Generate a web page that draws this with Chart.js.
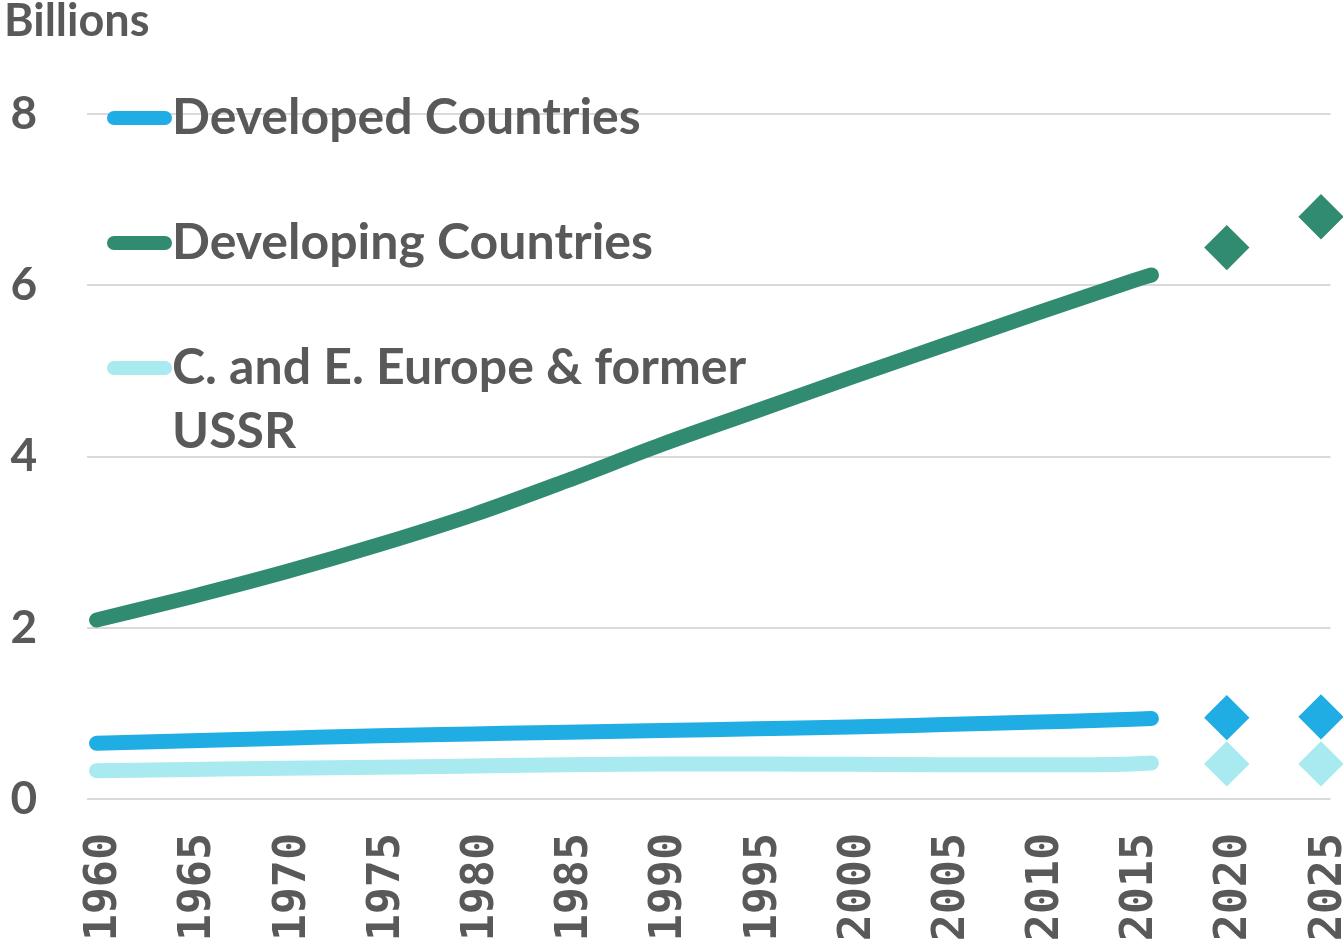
<!DOCTYPE html>
<html>
<head>
<meta charset="utf-8">
<script src="https://cdn.jsdelivr.net/npm/chart.js@4.4.1/dist/chart.umd.min.js"></script>
<style>
    html, body { margin: 0; padding: 0; background: #fff; overflow: hidden; }
    canvas { display: block; }
</style>
</head>
<body>
<canvas id="popChart" width="1343" height="943"></canvas>
<script>
// category axis: every year 1960..2025, labelled every 5 years
const years = Array.from({ length: 66 }, (_, i) => String(1960 + i));

// estimates (billions)
const trendYears = [1960, 1965, 1970, 1975, 1980, 1985, 1990, 1995, 2000, 2005, 2010, 2015, 2016];
const developed = [0.65, 0.68, 0.71, 0.74, 0.76, 0.78, 0.80, 0.82, 0.84, 0.87, 0.90, 0.93, 0.94];
const developing = [2.09, 2.36, 2.65, 2.97, 3.32, 3.72, 4.14, 4.53, 4.92, 5.30, 5.68, 6.05, 6.12];
const ceeUssr = [0.33, 0.345, 0.36, 0.37, 0.385, 0.40, 0.41, 0.41, 0.405, 0.40, 0.40, 0.41, 0.42];

const projYears = [2020, 2025];
const developedProj = [0.95, 0.96];
const developingProj = [6.44, 6.80];
const ceeUssrProj = [0.41, 0.41];

const seriesNames = ["Developed Countries", "Developing Countries", "C. and E. Europe & former USSR"];
const seriesColors = ["#1FADE4", "#318B70", "#A8EAF0"];
const yTicks = [0, 2, 4, 6, 8];

const textColor = "#595959";

function toPoints(xs, ys) {
    return xs.map((x, i) => ({ x: String(x), y: ys[i] }));
}

function trendSet(idx, values) {
    return {
        label: seriesNames[idx],
        data: toPoints(trendYears, values),
        borderColor: seriesColors[idx],
        backgroundColor: seriesColors[idx],
        borderWidth: 15,
        borderCapStyle: "round",
        borderJoinStyle: "round",
        cubicInterpolationMode: "monotone",
        pointRadius: 0,
        clip: false,
    };
}

function projSet(idx, values) {
    return {
        label: seriesNames[idx] + " (projection)",
        data: toPoints(projYears, values),
        showLine: false,
        pointStyle: "rectRot",
        pointRadius: 17,
        pointBorderWidth: 8,
        borderColor: seriesColors[idx],
        backgroundColor: seriesColors[idx],
        borderJoinStyle: "round",
        clip: false,
    };
}

// legend drawn inside the plot, top left, like the original
const sideLegend = {
    id: "sideLegend",
    afterDraw(chart) {
        const ctx = chart.ctx;
        const o = chart.options.plugins.sideLegend;
        ctx.save();

        // axis title
        ctx.fillStyle = textColor;
        ctx.font = "bold 45px Lato";
        ctx.textBaseline = "middle";
        ctx.textAlign = "left";
        ctx.fillText("Billions", 4, 21);

        ctx.font = "bold " + o.fontSize + "px Lato";
        for (let i = 0; i < 3; i++) {
            const y = o.top + i * o.spacing;
            ctx.strokeStyle = chart.data.datasets[i].borderColor;
            ctx.lineWidth = 14;
            ctx.lineCap = "round";
            ctx.beginPath();
            ctx.moveTo(o.left + 7, y);
            ctx.lineTo(o.left + o.markLen - 7, y);
            ctx.stroke();

            ctx.fillStyle = textColor;
            const lines = i === 2 ? ["C. and E. Europe & former", "USSR"] : [seriesNames[i]];
            lines.forEach((t, j) => ctx.fillText(t, o.left + o.markLen, y + j * o.lineGap));
        }
        ctx.restore();
    },
};

const chart = new Chart(document.getElementById("popChart"), {
    type: "line",
    data: {
        labels: years,
        datasets: [
            trendSet(0, developed),
            trendSet(1, developing),
            trendSet(2, ceeUssr),
            projSet(0, developedProj),
            projSet(1, developingProj),
            projSet(2, ceeUssrProj),
        ],
    },
    options: {
        responsive: false,
        animation: false,
        layout: {
            autoPadding: false,
            padding: { left: 3.1, right: 12.6, top: 114, bottom: 0 },
        },
        plugins: {
            legend: { display: false },
            tooltip: { enabled: false },
            sideLegend: { left: 107, markLen: 65, top: 118, spacing: 125, lineGap: 64, fontSize: 50 },
        },
        scales: {
            x: {
                type: "category",
                offset: true,
                grid: { display: false, drawTicks: false },
                border: { display: false },
                ticks: {
                    autoSkip: false,
                    maxRotation: 90,
                    minRotation: 90,
                    padding: 34,
                    labelOffset: 8,
                    color: textColor,
                    font: { family: "DejaVu Sans Mono", weight: "bold", size: 45 },
                    callback(value) {
                        const lab = this.getLabelForValue(value);
                        return Number(lab) % 5 === 0 ? lab : "";
                    },
                },
                afterFit(scale) {
                    scale.height = 144;
                    scale.paddingLeft = 0;
                    scale.paddingRight = 0;
                },
            },
            y: {
                min: 0,
                max: 8,
                afterBuildTicks(scale) {
                    scale.ticks = yTicks.map((v) => ({ value: v }));
                },
                grid: { color: "#D9D9D9", lineWidth: 2, drawTicks: false },
                border: { display: false },
                ticks: {
                    padding: 50,
                    color: textColor,
                    font: { family: "Lato", weight: "bold", size: 46 },
                },
                afterFit(scale) {
                    scale.width = 84;
                },
            },
        },
    },
    plugins: [sideLegend],
});
</script>
</body>
</html>
